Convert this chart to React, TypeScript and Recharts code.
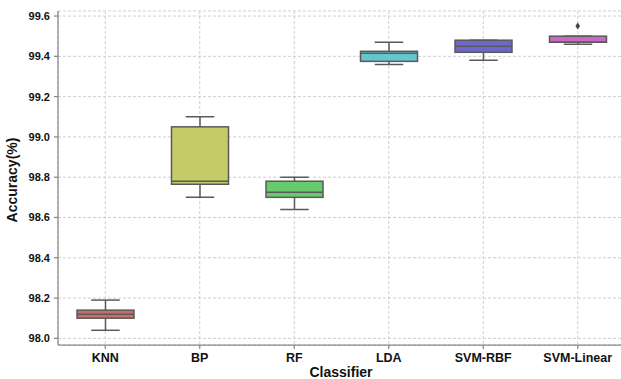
import { ComposedChart, Bar, Scatter, XAxis, YAxis, CartesianGrid } from 'recharts';

const classifiers = ['KNN', 'BP', 'RF', 'LDA', 'SVM-RBF', 'SVM-Linear'];
const whiskerLow = [98.04, 98.7, 98.64, 99.36, 99.38, 99.46];
const q1 = [98.1, 98.765, 98.7, 99.375, 99.42, 99.47];
const median = [98.12, 98.78, 98.725, 99.415, 99.45, 99.47];
const q3 = [98.14, 99.05, 98.78, 99.425, 99.48, 99.5];
const whiskerHigh = [98.19, 99.1, 98.8, 99.47, 99.48, 99.5];
const outliers: (number | null)[] = [null, null, null, null, null, 99.55];
const yTicks = [98.0, 98.2, 98.4, 98.6, 98.8, 99.0, 99.2, 99.4, 99.6];

// seaborn "hls" palette, desaturated to 0.75
const COLORS = ['#cb6d67', '#c5cb67', '#67cb6d', '#67c5cb', '#6d67cb', '#cb67c5'];

const data = classifiers.map((name, i) => ({
  name,
  range: [whiskerLow[i], whiskerHigh[i]],
  q1: q1[i],
  median: median[i],
  q3: q3[i],
  outlier: outliers[i],
  color: COLORS[i],
}));

const FONT = '"Liberation Sans", Arial, sans-serif';
const LINE = '#5a5a5a';

const BoxShape = (props: any) => {
  const { x, y, width, height, payload } = props;
  const [lo, hi] = payload.range;
  const toY = (v: number) => y + ((hi - v) / (hi - lo)) * height;
  const cx = x + width / 2;
  const capHalf = width / 4;
  const yTop = toY(payload.q3);
  const yBot = toY(payload.q1);
  const yMed = toY(payload.median);
  return (
    <g>
      <line x1={cx} x2={cx} y1={y} y2={yTop} stroke={LINE} strokeWidth={1.5} />
      <line x1={cx} x2={cx} y1={yBot} y2={y + height} stroke={LINE} strokeWidth={1.5} />
      <line x1={cx - capHalf} x2={cx + capHalf} y1={y} y2={y} stroke={LINE} strokeWidth={1.5} />
      <line x1={cx - capHalf} x2={cx + capHalf} y1={y + height} y2={y + height} stroke={LINE} strokeWidth={1.5} />
      <rect x={x} y={yTop} width={width} height={Math.max(yBot - yTop, 0.5)} fill={payload.color} stroke={LINE} strokeWidth={1.5} />
      <line x1={x} x2={x + width} y1={yMed} y2={yMed} stroke={LINE} strokeWidth={1.5} />
    </g>
  );
};

const Diamond = (props: any) => {
  const { cx, cy, payload } = props;
  if (payload.outlier == null || cx == null || cy == null) return null;
  return <path d={`M${cx},${cy - 3.5} L${cx + 2.3},${cy} L${cx},${cy + 3.5} L${cx - 2.3},${cy} Z`} fill="#444" />;
};

export default function App() {
  return (
    <div style={{ position: 'absolute', left: 0, top: 0, width: 621, height: 379, overflow: 'hidden', background: '#fff' }}>
      <ComposedChart width={625} height={379} data={data} margin={{ top: 11, right: 0, left: 0, bottom: 0 }}>
        <CartesianGrid stroke="#cfcfcf" strokeDasharray="3 2" />
        <XAxis
          dataKey="name"
          height={34}
          stroke="#888"
          strokeWidth={1.25}
          tickSize={4}
          tickMargin={4}
          tick={{ fontFamily: FONT, fontSize: 12.5, fontWeight: 'bold', fill: '#111' }}
          label={{
            content: () => (
              <text x={341} y={377} textAnchor="middle" fontFamily={FONT} fontSize={14} fontWeight="bold" fill="#111">
                Classifier
              </text>
            ),
          }}
        />
        <XAxis xAxisId="top" dataKey="name" orientation="top" height={0} tick={false} tickLine={false} stroke="#888" strokeWidth={1.25} />
        <YAxis
          width={58}
          domain={[97.967, 99.625]}
          ticks={yTicks}
          type="number"
          allowDataOverflow
          stroke="#888"
          strokeWidth={1.25}
          tickSize={4}
          tickMargin={4}
          tickFormatter={(v: number) => v.toFixed(1)}
          tick={{ fontFamily: FONT, fontSize: 11, fontWeight: 'bold', fill: '#111' }}
          label={{
            content: () => (
              <text x={13} y={180} transform="rotate(-90 13 180)" textAnchor="middle" dominantBaseline="middle" fontFamily={FONT} fontSize={14} fontWeight="bold" fill="#111">
                Accuracy(%)
              </text>
            ),
          }}
        />
        <Bar dataKey="range" barSize={57} shape={BoxShape} isAnimationActive={false} />
        <Scatter dataKey="outlier" shape={Diamond} isAnimationActive={false} />
      </ComposedChart>
    </div>
  );
}
